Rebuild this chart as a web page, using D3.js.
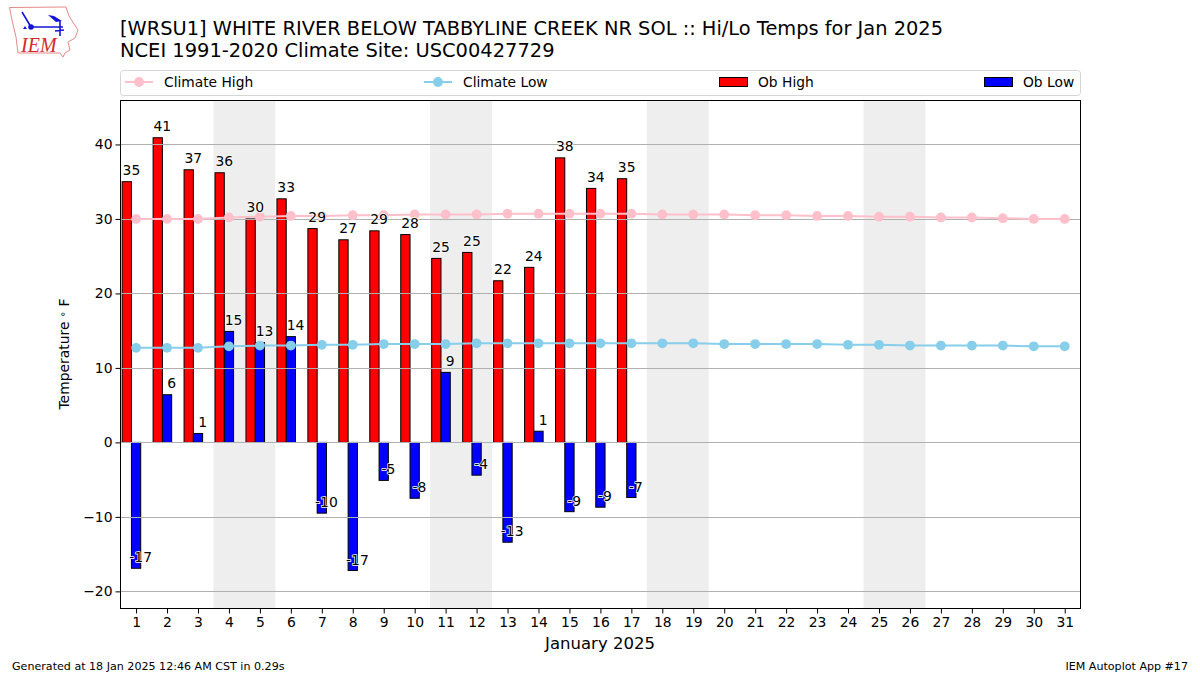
<!DOCTYPE html>
<html><head><meta charset="utf-8">
<script src="https://cdn.jsdelivr.net/npm/d3@7"></script>
<style>
html,body{margin:0;padding:0;background:#fff}
svg{display:block}
text{font-family:"DejaVu Sans",sans-serif;fill:#000}
</style></head><body>
<svg id="c" width="1200" height="675"></svg>
<script>
const days = d3.range(1, 32);
const obDays = d3.range(1, 18);
const obHigh = [35.0,40.9,36.6,36.2,30.0,32.7,28.7,27.2,28.4,27.9,24.7,25.5,21.7,23.5,38.2,34.1,35.4];
const obLow = [-16.9,6.4,1.2,14.9,13.4,14.2,-9.5,-17.2,-5.1,-7.5,9.4,-4.4,-13.4,1.5,-9.3,-8.7,-7.4];
const highLabels = [35,41,37,36,30,33,29,27,29,28,25,25,22,24,38,34,35];
const lowLabels = [-17,6,1,15,13,14,-10,-17,-5,-8,9,-4,-13,1,-9,-9,-7];
const climateHigh = [30.0,30.0,30.0,30.2,30.3,30.4,30.4,30.5,30.5,30.6,30.6,30.6,30.7,30.7,30.7,30.7,30.7,30.6,30.6,30.6,30.5,30.5,30.4,30.4,30.3,30.3,30.2,30.2,30.1,30.0,30.0];
const climateLow = [12.7,12.7,12.7,12.9,13.0,13.0,13.1,13.1,13.2,13.2,13.2,13.3,13.3,13.3,13.3,13.3,13.3,13.3,13.3,13.2,13.2,13.2,13.2,13.1,13.1,13.0,13.0,13.0,13.0,12.9,12.9];
const weekends = [[3.5,5.5],[10.5,12.5],[17.5,19.5],[24.5,26.5]];
const yTicks = [-20,-10,0,10,20,30,40];
const titleLines = ["[WRSU1] WHITE RIVER BELOW TABBYLINE CREEK NR SOL :: Hi/Lo Temps for Jan 2025","NCEI 1991-2020 Climate Site: USC00427729"];

const svg = d3.select("#c");
const L=120.5,R=1080.5,T=100.5,B=608.5;
const x = d3.scaleLinear().domain([0.5,31.5]).range([120.6,1080.2]);
const y = d3.scaleLinear().domain([-22.3,45.9]).range([B,T]);
const barW = x(1.3)-x(1);

// logo
const logo = svg.append("g");
logo.append("path").attr("d","M9.5,7.5 L66,7 L69,16 L78,30 L75,38 L68,42 L70,50 L65,53 L63,57 L60,53 L18,53 L16,37 L12,20 Z")
  .attr("fill","#fff").attr("stroke","#e58a8a").attr("stroke-width",1);
logo.append("path").attr("d","M31,27 L63,27 M22,12 L25,17 L31,27 M60,21 L60,36 M55,31 L64,30").attr("stroke","#1515d8").attr("stroke-width",1.6).attr("fill","none");
logo.append("circle").attr("cx",31).attr("cy",27).attr("r",2.8).attr("fill","#1515d8");
logo.append("path").attr("d","M48,15 L54,16 L62,21 L56,22 Z").attr("fill","#1515d8");
logo.append("path").attr("d","M23,29 L25,26 L27,29 Z").attr("fill","#1515d8");
logo.append("text").attr("x",21).attr("y",52).text("IEM")
  .style("font-family","'Liberation Serif',serif").style("font-style","italic").style("font-size","20px").style("fill","#d42a2a");

// titles
svg.append("g").selectAll("text").data(titleLines).join("text")
  .attr("x",120).attr("y",(d,i)=>35+i*22).style("font-size",(d,i)=>i?"19.45px":"19.4px").text(d=>d);

// legend
svg.append("rect").attr("x",120.5).attr("y",70.5).attr("width",960).attr("height",25).attr("rx",3)
  .attr("fill","#fff").attr("stroke","#d5d5d5").attr("stroke-width",1);
[["Climate High","pink",125,164],["Climate Low","skyblue",424,463]].forEach(([t,c,a,tx])=>{
  svg.append("line").attr("x1",a).attr("x2",a+28).attr("y1",82).attr("y2",82).attr("stroke",c).attr("stroke-width",2);
  svg.append("circle").attr("cx",a+14).attr("cy",82).attr("r",4.9).attr("fill",c);
  svg.append("text").attr("x",tx).attr("y",86.5).style("font-size","13.8px").text(t);
});
[["Ob High","red",719,758],["Ob Low","blue",984,1023]].forEach(([t,c,a,tx])=>{
  svg.append("rect").attr("x",a+.5).attr("y",77.5).attr("width",28).attr("height",9).attr("fill",c).attr("stroke","#000").attr("stroke-width",1);
  svg.append("text").attr("x",tx).attr("y",86.5).style("font-size","13.8px").text(t);
});

// plot
const plot = svg.append("g");
plot.selectAll("rect.wk").data(weekends).join("rect").attr("class","wk")
  .attr("x",d=>x(d[0])).attr("width",d=>x(d[1])-x(d[0])).attr("y",T).attr("height",B-T).attr("fill","#eeeeee");

plot.selectAll("rect.hi").data(obDays).join("rect").attr("class","hi")
  .attr("x",d=>x(d-0.45)).attr("width",barW)
  .attr("y",(d,i)=>Math.min(y(obHigh[i]),y(0))).attr("height",(d,i)=>Math.abs(y(obHigh[i])-y(0)))
  .attr("fill","red").attr("stroke","#000").attr("stroke-width",1);
plot.selectAll("rect.lo").data(obDays).join("rect").attr("class","lo")
  .attr("x",d=>x(d-0.15)).attr("width",barW)
  .attr("y",(d,i)=>Math.min(y(obLow[i]),y(0))).attr("height",(d,i)=>Math.abs(y(obLow[i])-y(0)))
  .attr("fill","blue").attr("stroke","#000").attr("stroke-width",1);

// grid
plot.selectAll("line.g").data(yTicks).join("line").attr("class","g")
  .attr("x1",L).attr("x2",R).attr("y1",d=>Math.round(y(d))+.5).attr("y2",d=>Math.round(y(d))+.5)
  .attr("stroke","#b0b0b0").attr("stroke-width",1);

// climate lines
[[climateHigh,"pink"],[climateLow,"skyblue"]].forEach(([arr,c])=>{
  plot.append("path").attr("fill","none").attr("stroke",c).attr("stroke-width",2)
    .attr("d",d3.line().x(d=>x(d)).y((d,i)=>y(arr[i]))(days));
  plot.append("g").selectAll("circle").data(days).join("circle")
    .attr("cx",d=>x(d)).attr("cy",(d,i)=>y(arr[i])).attr("r",4.9).attr("fill",c);
});

// labels
const halo = s=>s.style("font-size","13.9px").attr("text-anchor","middle")
  .style("stroke","#fff").style("stroke-width","1.5px").style("paint-order","stroke").style("stroke-linejoin","round");
plot.selectAll("text.hl").data(obDays).join("text").attr("class","hl")
  .attr("x",d=>x(d-0.15)).attr("y",(d,i)=>y(obHigh[i])-6.5).text((d,i)=>highLabels[i]).call(halo);
plot.selectAll("text.ll").data(obDays).join("text").attr("class","ll")
  .attr("x",d=>x(d+0.15)).attr("y",(d,i)=>obLow[i]<0?y(obLow[i])-6:y(obLow[i])-6.5).text((d,i)=>lowLabels[i]).call(halo);

// axes
const ax = svg.append("g").attr("transform",`translate(0,${B})`)
  .call(d3.axisBottom(x).tickValues(days).tickFormat(d3.format("d")).tickSize(5).tickPadding(4));
const ay = svg.append("g").attr("transform",`translate(${L},0)`)
  .call(d3.axisLeft(y).tickValues(yTicks).tickFormat(d=>d<0?"\u2212"+Math.abs(d):d).tickSize(5).tickPadding(3));
[ax,ay].forEach(a=>{
  a.select(".domain").remove();
  a.selectAll("line").attr("stroke","#000").attr("stroke-width",1);
  a.selectAll("text").style("font-size","13.9px").style("font-family","'DejaVu Sans',sans-serif");
});
svg.append("rect").attr("x",L).attr("y",T).attr("width",R-L).attr("height",B-T)
  .attr("fill","none").attr("stroke","#000").attr("stroke-width",1);

// axis titles
svg.append("text").attr("x",600).attr("y",649).attr("text-anchor","middle").style("font-size","16.5px").text("January 2025");
const yl = svg.append("text").attr("transform","translate(69,354) rotate(-90)").attr("text-anchor","middle").style("font-size","13.9px");
yl.append("tspan").text("Temperature ");
yl.append("tspan").attr("dy",-3).style("font-size","10px").text("\u2218");
yl.append("tspan").attr("dy",3).text(" F");

// footer
svg.append("text").attr("x",12).attr("y",670).style("font-size","11.1px").text("Generated at 18 Jan 2025 12:46 AM CST in 0.29s");
svg.append("text").attr("x",1188).attr("y",670).attr("text-anchor","end").style("font-size","11.1px").text("IEM Autoplot App #17");
</script>
</body></html>
